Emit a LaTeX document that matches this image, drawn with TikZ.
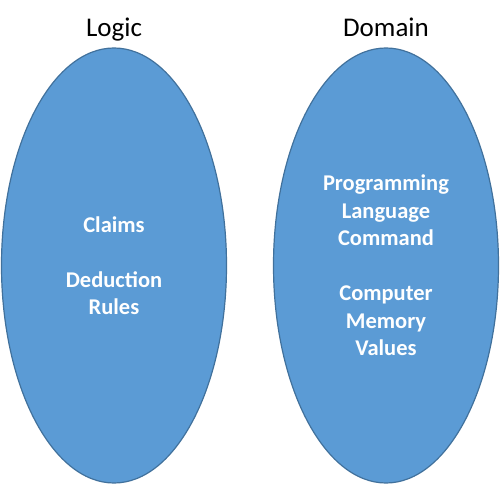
\documentclass[tikz,border=0pt]{standalone}
\usepackage{fontspec}
\setmainfont{Carlito}
\usetikzlibrary{shapes.geometric}
\definecolor{setfill}{HTML}{5B9BD5}
\definecolor{setline}{HTML}{41719C}

\begin{document}
\begin{tikzpicture}[
  x=1pt, y=-1pt,
  setshape/.style={ellipse, draw=setline, line width=1.2pt, fill=setfill, inner sep=0pt, minimum width=225pt, minimum height=435pt, text=white, align=center, font=\fontsize{22.5}{27.5}\selectfont\bfseries},
  title/.style={anchor=base, font=\fontsize{27}{32}\selectfont}
]
\useasboundingbox (0,0) rectangle (501,484);

\node[setshape] (logic) at (114,265.5) {Claims\\[27.5pt]Deduction\\Rules};
\node[setshape] (domain) at (386,265.5) {Programming\\Language\\Command\\[27.5pt]Computer\\Memory\\Values};

\node[title] (logictitle) at (114,37) {Logic};
\node[title] (domaintitle) at (386,37) {Domain};
\end{tikzpicture}
\end{document}
